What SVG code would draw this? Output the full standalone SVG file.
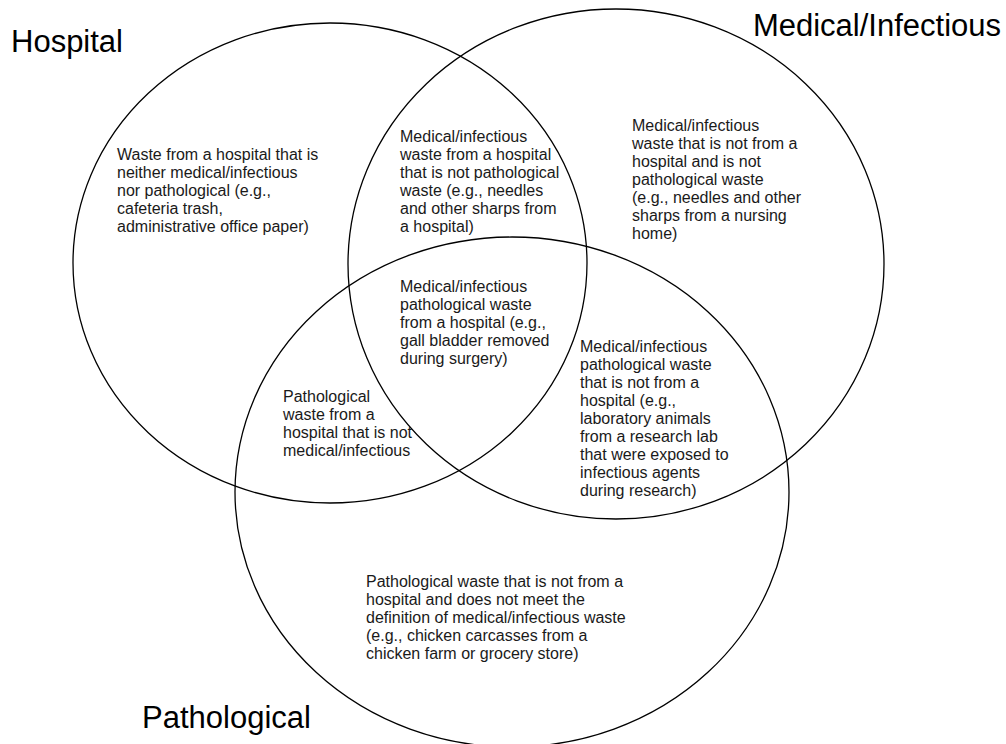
<svg xmlns="http://www.w3.org/2000/svg" width="1006" height="744" viewBox="0 0 1006 744">
<style>
.c{fill:none;stroke:#000;stroke-width:1.3}
.t{font-family:"Liberation Sans",Arial,sans-serif;font-size:16px;fill:#1a1a1a}
.h{font-family:"Liberation Sans",Arial,sans-serif;font-size:31px;fill:#000}
</style>
<rect width="1006" height="744" fill="#fff"/>
<g id="sets">
<ellipse id="hospital-set" class="c" cx="330" cy="263" rx="257" ry="240"/>
<ellipse id="medical-set" class="c" cx="616" cy="264" rx="268" ry="255"/>
<ellipse id="pathological-set" class="c" cx="512" cy="492" rx="277" ry="255"/>
</g>
<g id="labels">
<text class="h" x="11" y="52">Hospital</text>
<text class="h" x="1001" y="36" text-anchor="end">Medical/Infectious</text>
<text class="h" x="142" y="728">Pathological</text>
</g>
<g id="region-hospital-only">
<text class="t" x="117" y="160">Waste from a hospital that is</text>
<text class="t" x="117" y="178">neither medical/infectious</text>
<text class="t" x="117" y="196">nor pathological (e.g.,</text>
<text class="t" x="117" y="214">cafeteria trash,</text>
<text class="t" x="117" y="232">administrative office paper)</text>
</g>
<g id="region-hospital-medical">
<text class="t" x="400" y="142">Medical/infectious</text>
<text class="t" x="400" y="160">waste from a hospital</text>
<text class="t" x="400" y="178">that is not pathological</text>
<text class="t" x="400" y="196">waste (e.g., needles</text>
<text class="t" x="400" y="214">and other sharps from</text>
<text class="t" x="400" y="232">a hospital)</text>
</g>
<g id="region-medical-only">
<text class="t" x="632" y="131">Medical/infectious</text>
<text class="t" x="632" y="149">waste that is not from a</text>
<text class="t" x="632" y="167">hospital and is not</text>
<text class="t" x="632" y="185">pathological waste</text>
<text class="t" x="632" y="203">(e.g., needles and other</text>
<text class="t" x="632" y="221">sharps from a nursing</text>
<text class="t" x="632" y="239">home)</text>
</g>
<g id="region-all-three">
<text class="t" x="400" y="292">Medical/infectious</text>
<text class="t" x="400" y="310">pathological waste</text>
<text class="t" x="400" y="328">from a hospital (e.g.,</text>
<text class="t" x="400" y="346">gall bladder removed</text>
<text class="t" x="400" y="364">during surgery)</text>
</g>
<g id="region-hospital-pathological">
<text class="t" x="283" y="402">Pathological</text>
<text class="t" x="283" y="420">waste from a</text>
<text class="t" x="283" y="438">hospital that is not</text>
<text class="t" x="283" y="456">medical/infectious</text>
</g>
<g id="region-medical-pathological">
<text class="t" x="580" y="352">Medical/infectious</text>
<text class="t" x="580" y="370">pathological waste</text>
<text class="t" x="580" y="388">that is not from a</text>
<text class="t" x="580" y="406">hospital (e.g.,</text>
<text class="t" x="580" y="424">laboratory animals</text>
<text class="t" x="580" y="442">from a research lab</text>
<text class="t" x="580" y="460">that were exposed to</text>
<text class="t" x="580" y="478">infectious agents</text>
<text class="t" x="580" y="496">during research)</text>
</g>
<g id="region-pathological-only">
<text class="t" x="366" y="587">Pathological waste that is not from a</text>
<text class="t" x="366" y="605">hospital and does not meet the</text>
<text class="t" x="366" y="623">definition of medical/infectious waste</text>
<text class="t" x="366" y="641">(e.g., chicken carcasses from a</text>
<text class="t" x="366" y="659">chicken farm or grocery store)</text>
</g>
<g id="connectors"></g>
</svg>
